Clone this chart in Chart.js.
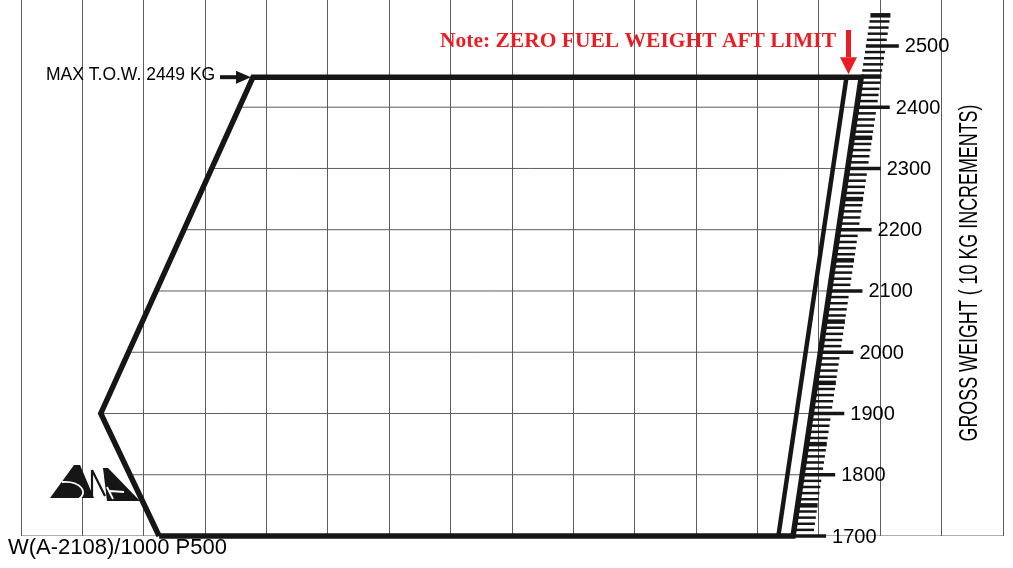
<!DOCTYPE html>
<html>
<head>
<meta charset="utf-8">
<title>Weight and balance envelope</title>
<script src="https://cdn.jsdelivr.net/npm/chart.js@4.4.0/dist/chart.umd.min.js"></script>
<style>
  html, body { margin: 0; padding: 0; background: #fff; }
  #wrap { width: 1013px; height: 568px; }
</style>
</head>
<body>
<div id="wrap"><canvas id="envChart" width="1013" height="568"></canvas></div>
<script>
// envelope corners: x in grid units of W(A-2108)/1000 P500, y in kg
const envelopeX = [2.25, 1.30, 3.78, 13.69, 12.58, 2.25];
const envelopeW = [1700, 1900, 2449, 2449, 1700, 1700];

// zero fuel weight aft limit
const zfwX = [12.34, 13.45];
const zfwW = [1700, 2449];

// edges of the envelope, the inner grid stops at them
const leftEdgeX = [2.25, 1.30, 3.78];
const leftEdgeW = [1700, 1900, 2449];
const rightEdgeX = [12.58, 13.69];
const rightEdgeW = [1700, 2449];

const gridWeights = [1800, 1900, 2000, 2100, 2200, 2300, 2400];
const weightLabels = ['1700', '1800', '1900', '2000', '2100', '2200', '2300', '2400', '2500'];

// the slanted gross weight scale (10 kg increments)
const scaleFrom = 1700;
const scaleTo = 2550;
const scaleStep = 10;

const maxTow = 2449;
const xTitle = 'W(A-2108)/1000 P500';
const yTitle = 'GROSS WEIGHT ( 10 KG INCREMENTS)';
const towLabel = 'MAX T.O.W. 2449 KG';
const noteLabel = 'Note: ZERO FUEL WEIGHT AFT LIMIT';

// x on a polyline edge for a given weight (extends the end segments)
function edgeAt(xs, ws, w) {
  let i = 0;
  while (i < ws.length - 2 && w > ws[i + 1]) i++;
  const t = (w - ws[i]) / (ws[i + 1] - ws[i]);
  return xs[i] + t * (xs[i + 1] - xs[i]);
}

const gridData = [];
gridWeights.forEach(w => {
  gridData.push({x: edgeAt(leftEdgeX, leftEdgeW, w), y: w});
  gridData.push({x: edgeAt(rightEdgeX, rightEdgeW, w), y: w});
  gridData.push({x: null, y: null});
});
gridData.push({x: 0, y: 1700}, {x: 16, y: 1700});

const ink = '#161616';
const gridColor = '#5c5c5c';
const red = '#ec1c24';

function arrow(ctx, x1, y1, x2, y2, shaft, headLen, headW, color) {
  const a = Math.atan2(y2 - y1, x2 - x1);
  ctx.save();
  ctx.strokeStyle = color;
  ctx.fillStyle = color;
  ctx.lineWidth = shaft;
  ctx.beginPath();
  ctx.moveTo(x1, y1);
  ctx.lineTo(x2 - headLen * Math.cos(a), y2 - headLen * Math.sin(a));
  ctx.stroke();
  ctx.translate(x2, y2);
  ctx.rotate(a);
  ctx.beginPath();
  ctx.moveTo(0, 0);
  ctx.lineTo(-headLen, -headW / 2);
  ctx.lineTo(-headLen, headW / 2);
  ctx.closePath();
  ctx.fill();
  ctx.restore();
}

// small company mark in the lower left corner
function drawLogo(ctx, ox, oy) {
  ctx.save();
  ctx.fillStyle = ink;
  // left delta
  ctx.beginPath();
  ctx.moveTo(ox, oy + 33); ctx.lineTo(ox + 24, oy); ctx.lineTo(ox + 30, oy);
  ctx.lineTo(ox + 44, oy + 33);
  ctx.closePath(); ctx.fill();
  ctx.strokeStyle = '#fff';
  ctx.lineWidth = 1.8;
  ctx.beginPath();
  ctx.moveTo(ox + 12, oy + 17);
  ctx.bezierCurveTo(ox + 32, oy + 15, ox + 40, oy + 30, ox + 26, oy + 35);
  ctx.stroke();
  // N strokes
  ctx.strokeStyle = ink;
  ctx.lineWidth = 2.2;
  ctx.beginPath();
  ctx.moveTo(ox + 42, oy + 5); ctx.lineTo(ox + 42, oy + 33);
  ctx.moveTo(ox + 42, oy + 5); ctx.lineTo(ox + 55, oy + 31);
  ctx.stroke();
  // right A
  ctx.beginPath();
  ctx.moveTo(ox + 53, oy + 3); ctx.lineTo(ox + 58, oy + 3); ctx.lineTo(ox + 90, oy + 36);
  ctx.lineTo(ox + 57, oy + 36);
  ctx.closePath(); ctx.fill();
  ctx.strokeStyle = '#fff';
  ctx.lineWidth = 1.8;
  ctx.beginPath();
  ctx.moveTo(ox + 57, oy + 22); ctx.lineTo(ox + 63, oy + 34);
  ctx.moveTo(ox + 60, oy + 26); ctx.lineTo(ox + 74, oy + 27);
  ctx.stroke();
  ctx.restore();
}

const weightScale = {
  id: 'weightScale',
  afterDatasetsDraw(chart) {
    const {ctx, scales: {x, y}} = chart;
    ctx.save();
    ctx.strokeStyle = ink;
    for (let w = scaleFrom; w <= scaleTo; w += scaleStep) {
      const px = x.getPixelForValue(edgeAt(rightEdgeX, rightEdgeW, w));
      const py = y.getPixelForValue(w);
      const major = w % 100 === 0;
      const half = w % 50 === 0;
      ctx.lineWidth = major ? 3.5 : (half ? 4.5 : 2.5);
      ctx.beginPath();
      ctx.moveTo(px, py);
      ctx.lineTo(px + (major ? 33 : 20), py);
      ctx.stroke();
    }
    ctx.fillStyle = '#000';
    ctx.font = '20px "Liberation Sans", Arial, sans-serif';
    ctx.textBaseline = 'middle';
    weightLabels.forEach(lbl => {
      const w = Number(lbl);
      const px = x.getPixelForValue(edgeAt(rightEdgeX, rightEdgeW, w));
      ctx.fillText(lbl, px + 39, y.getPixelForValue(w) + 1);
    });
    ctx.restore();
  },
  afterDraw(chart) {
    const {ctx, scales: {x, y}} = chart;
    const topY = y.getPixelForValue(maxTow);
    ctx.save();
    ctx.fillStyle = '#000';
    ctx.textBaseline = 'alphabetic';

    ctx.font = '22px "Liberation Sans", Arial, sans-serif';
    ctx.fillText(xTitle, 8, 554);

    ctx.font = '17.5px "Liberation Sans", Arial, sans-serif';
    ctx.fillText(towLabel, 46, 80);
    arrow(ctx, 220, topY, x.getPixelForValue(envelopeX[2]) - 2, topY, 4, 15, 13, ink);

    ctx.fillStyle = red;
    ctx.font = 'bold 21.5px "Liberation Serif", "Times New Roman", serif';
    ctx.fillText(noteLabel, 440, 47);
    const zx = x.getPixelForValue(zfwX[1]) + 2;
    arrow(ctx, zx, 30, zx, topY - 3, 5, 17, 17, red);

    // rotated axis title, squeezed to the original's length
    ctx.fillStyle = '#000';
    ctx.translate(977, 273);
    ctx.rotate(-Math.PI / 2);
    ctx.font = '26px "Liberation Sans", Arial, sans-serif';
    const tw = ctx.measureText(yTitle).width;
    ctx.scale(337 / tw, 1);
    ctx.textAlign = 'center';
    ctx.fillText(yTitle, 0, 0);
    ctx.restore();

    drawLogo(ctx, 50, 465);
  }
};

new Chart(document.getElementById('envChart'), {
  type: 'scatter',
  data: {
    datasets: [
      {
        label: 'Envelope',
        data: envelopeX.map((v, i) => ({x: v, y: envelopeW[i]})),
        showLine: true,
        borderColor: ink,
        borderWidth: 5.5,
        borderJoinStyle: 'miter',
        pointRadius: 0,
        clip: false,
        order: 0
      },
      {
        label: 'Zero fuel weight aft limit',
        data: zfwX.map((v, i) => ({x: v, y: zfwW[i]})),
        showLine: true,
        borderColor: ink,
        borderWidth: 4.5,
        pointRadius: 0,
        clip: false,
        order: 1
      },
      {
        label: 'grid',
        data: gridData,
        showLine: true,
        spanGaps: false,
        borderColor: gridColor,
        borderWidth: 1,
        pointRadius: 0,
        order: 3
      }
    ]
  },
  options: {
    responsive: false,
    animation: false,
    layout: { padding: { left: 21, right: 10, top: 0, bottom: 32 } },
    plugins: { legend: { display: false }, tooltip: { enabled: false } },
    scales: {
      x: {
        type: 'linear',
        min: 0,
        max: 16,
        ticks: { display: false, stepSize: 1 },
        grid: { color: gridColor, lineWidth: 1, drawTicks: false },
        border: { display: false }
      },
      y: {
        type: 'linear',
        display: false,
        min: 1700,
        max: 2575
      }
    }
  },
  plugins: [weightScale]
});
</script>
</body>
</html>
